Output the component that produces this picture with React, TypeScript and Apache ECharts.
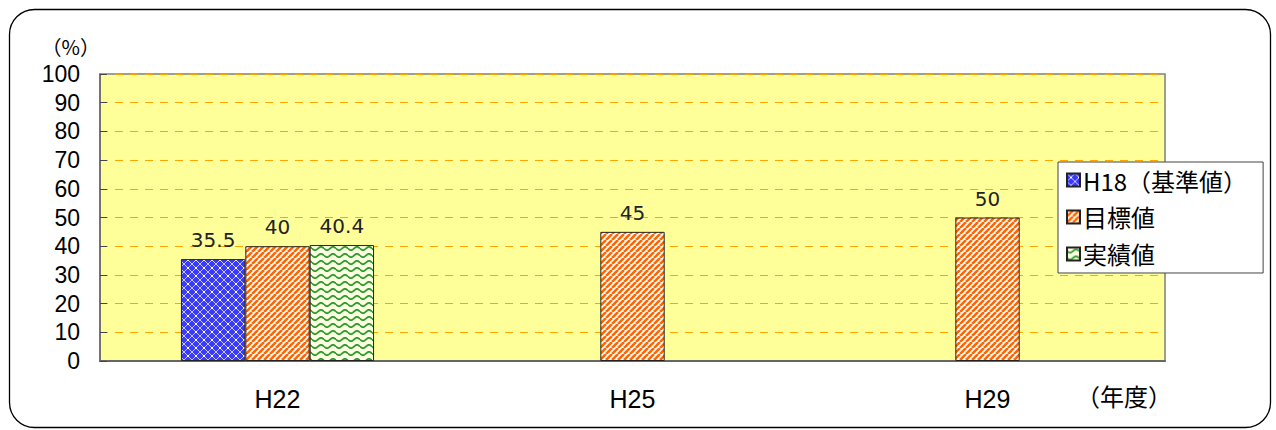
import React, { useEffect, useRef } from "react";
import * as echarts from "echarts";

const categories = ["H22", "H25", "H29"];
const seriesNames = ["H18（基準値）", "目標値", "実績値"];
const baseValues: (number | null)[] = [35.5, null, null];
const targetValues: (number | null)[] = [40, 45, 50];
const actualValues: (number | null)[] = [40.4, null, null];
const yTicks = { min: 0, max: 100, interval: 10 };

function makeCanvas(w: number, h: number, draw: (c: CanvasRenderingContext2D) => void) {
  const cv = document.createElement("canvas");
  cv.width = w;
  cv.height = h;
  const ctx = cv.getContext("2d")!;
  draw(ctx);
  return cv;
}

function orangePattern() {
  const s = 6;
  const cv = makeCanvas(s, s, (c) => {
    c.fillStyle = "#ffffff";
    c.fillRect(0, 0, s, s);
    c.strokeStyle = "#ff6600";
    c.lineWidth = 2.6;
    for (let k = -2; k <= 2; k++) {
      c.beginPath();
      c.moveTo(k * s, s);
      c.lineTo(k * s + s, 0);
      c.stroke();
    }
  });
  return { image: cv, repeat: "repeat", imageWidth: s, imageHeight: s };
}

function bluePattern() {
  const s = 8;
  const cv = makeCanvas(s, s, (c) => {
    c.fillStyle = "#3a3aff";
    c.fillRect(0, 0, s, s);
    c.strokeStyle = "rgba(255,255,255,0.7)";
    c.lineWidth = 1;
    for (let k = -1; k <= 1; k++) {
      c.beginPath();
      c.moveTo(k * s, s);
      c.lineTo(k * s + s, 0);
      c.stroke();
      c.beginPath();
      c.moveTo(k * s, 0);
      c.lineTo(k * s + s, s);
      c.stroke();
    }
    c.fillStyle = "#ffffff";
    c.fillRect(s / 2 - 1, s / 2 - 1, 2, 2);
  });
  return { image: cv, repeat: "repeat", imageWidth: s, imageHeight: s };
}

function greenPattern() {
  const w = 12;
  const h = 7;
  const cv = makeCanvas(w, h, (c) => {
    c.fillStyle = "#fcffe0";
    c.fillRect(0, 0, w, h);
    c.strokeStyle = "#2e9a2e";
    c.lineWidth = 1.8;
    c.beginPath();
    for (let x = 0; x <= w; x += 0.5) {
      const y = h / 2 + 1.6 * Math.sin((x / w) * Math.PI * 2);
      if (x === 0) c.moveTo(x, y);
      else c.lineTo(x, y);
    }
    c.stroke();
  });
  return { image: cv, repeat: "repeat", imageWidth: w, imageHeight: h };
}

export default function App() {
  const ref = useRef<HTMLDivElement>(null);
  useEffect(() => {
    if (!ref.current) return;
    const chart = echarts.init(ref.current, null, { renderer: "svg" });
    const cjk = '"Noto Sans CJK JP", "Noto Sans", sans-serif';
    const latin = '"Liberation Sans", Arial, sans-serif';
    const labelCfg = {
      show: true,
      position: "top",
      distance: 9,
      fontSize: 20,
      color: "#222",
      fontFamily: '"DejaVu Sans", sans-serif',
    };
    const bar = (name: string, data: (number | null)[], color: any) => ({
      type: "bar",
      name,
      data,
      barGap: "0%",
      barCategoryGap: "45.6%",
      itemStyle: { color, borderColor: "#222", borderWidth: 1 },
      label: labelCfg,
    });
    chart.setOption({
      animation: false,
      textStyle: { fontFamily: cjk },
      grid: {
        left: 100,
        right: 111,
        top: 74,
        bottom: 69,
        show: true,
        backgroundColor: "#ffff99",
        borderColor: "#7f7f7f",
        borderWidth: 1.5,
      },
      legend: {
        orient: "vertical",
        left: 1058,
        top: 162,
        backgroundColor: "#ffffff",
        borderColor: "#444",
        borderWidth: 1,
        padding: [6, 16, 7, 8],
        itemGap: 13,
        itemWidth: 13,
        itemHeight: 13,
        icon: "rect",
        textStyle: { fontSize: 24, color: "#000", fontFamily: cjk, padding: [0, 0, 0, -2] },
        data: seriesNames,
      },
      xAxis: {
        type: "category",
        data: categories,
        axisLine: { lineStyle: { color: "#666", width: 2 } },
        axisTick: { inside: true, length: 6, lineStyle: { color: "#666" } },
        axisLabel: { fontSize: 25, color: "#000", margin: 25, fontFamily: latin },
      },
      yAxis: {
        type: "value",
        min: yTicks.min,
        max: yTicks.max,
        interval: yTicks.interval,
        name: "（%）",
        nameLocation: "end",
        nameGap: 18,
        nameTextStyle: { fontSize: 20, color: "#000", align: "right", padding: [0, 0, 0, 0], fontFamily: cjk },
        axisLine: { show: true, lineStyle: { color: "#666", width: 1.5 } },
        axisTick: { show: true, inside: true, length: 7, lineStyle: { color: "#444" } },
        axisLabel: { fontSize: 23, color: "#000", margin: 20, fontFamily: latin },
        splitLine: {
          show: true,
          lineStyle: { color: "#ffa500", type: [8, 7], width: 1 },
        },
      },
      graphic: [
        {
          type: "rect",
          left: 7,
          top: 7,
          shape: { width: 1261, height: 418, r: 25 },
          style: { fill: "none", stroke: "#000", lineWidth: 1.3 },
          z: -10,
        },
        {
          type: "text",
          left: 1076,
          top: 383,
          style: { text: "（年度）", fontSize: 24, fill: "#000", fontFamily: cjk },
        },
      ],
      series: [
        bar(seriesNames[0], baseValues, bluePattern()),
        bar(seriesNames[1], targetValues, orangePattern()),
        bar(seriesNames[2], actualValues, greenPattern()),
      ],
    });
    return () => chart.dispose();
  }, []);
  return (
    <div
      ref={ref}
      style={{ position: "fixed", left: 0, top: 0, width: 1276, height: 430, background: "#fff" }}
    />
  );
}
